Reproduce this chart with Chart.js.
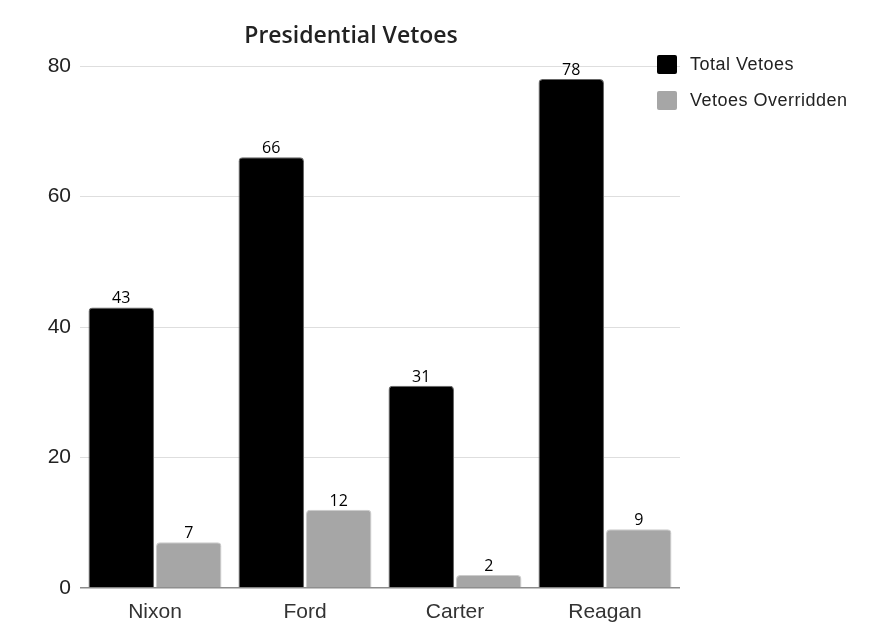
<!DOCTYPE html>
<html>
<head>
<meta charset="utf-8">
<script src="https://cdn.jsdelivr.net/npm/chart.js@4.4.1/dist/chart.umd.min.js"></script>
<style>
  body { margin: 0; background: #fff; }
  #wrap { position: relative; width: 875px; height: 640px; }
  #legenda { position: absolute; left: 657px; top: 54px; font-family: 'Liberation Sans', Arial, sans-serif; font-size: 18px; color: #222; letter-spacing: 0.5px; }
  .item { display: flex; align-items: center; height: 20px; margin-bottom: 16px; }
  .caixa { width: 20px; height: 19px; border-radius: 2px; margin-right: 13px; }
</style>
</head>
<body>
<div id="wrap">
  <canvas id="graficoVetos" width="875" height="640"></canvas>
  <div id="legenda"></div>
</div>
<script>
// dados
const presidentes = ['Nixon', 'Ford', 'Carter', 'Reagan']
const vetosTotais = [43, 66, 31, 78]
const vetosDerrubados = [7, 12, 2, 9]
const ticksY = [0, 20, 40, 60, 80]

const nomesSeries = ['Total Vetoes', 'Vetoes Overridden']
const coresSeries = ['#000000', '#a6a6a6']
const bordasSeries = ['#666666', '#cccccc']

// legenda em html (fica fora da area do titulo)
const $legenda = document.getElementById('legenda')
nomesSeries.forEach((nome, i) => {
    $legenda.innerHTML += `<div class="item"><div class="caixa" style="background:${coresSeries[i]}"></div>${nome}</div>`
})

/*
* Escreve o valor em cima de cada barra
*/
const rotulosBarras = {
    id: 'rotulosBarras',
    afterDatasetsDraw(chart) {
        const ctx = chart.ctx
        ctx.save()
        ctx.font = '16px "Open Sans", sans-serif'
        ctx.fillStyle = '#000'
        ctx.textAlign = 'center'
        ctx.textBaseline = 'alphabetic'
        chart.data.datasets.forEach((ds, i) => {
            chart.getDatasetMeta(i).data.forEach((barra, j) => {
                ctx.fillText(ds.data[j], barra.x, barra.y - 4)
            })
        })
        ctx.restore()
    }
}

const ctx = document.getElementById('graficoVetos').getContext('2d')

const meuGrafico = new Chart(ctx, {
    type: 'bar',
    data: {
        labels: presidentes,
        datasets: [{
            label: nomesSeries[0],
            data: vetosTotais,
            backgroundColor: coresSeries[0],
            borderColor: bordasSeries[0],
            borderWidth: 1,
            borderRadius: { topLeft: 4, topRight: 4 },
            borderSkipped: 'start'
        }, {
            label: nomesSeries[1],
            data: vetosDerrubados,
            backgroundColor: coresSeries[1],
            borderColor: bordasSeries[1],
            borderWidth: 1,
            borderRadius: { topLeft: 4, topRight: 4 },
            borderSkipped: 'start'
        }]
    },
    options: {
        responsive: false,
        animation: false,
        categoryPercentage: 0.9,
        barPercentage: 0.97,
        layout: {
            padding: { left: 22, right: 195, top: 0, bottom: 0 }
        },
        plugins: {
            legend: { display: false },
            tooltip: { enabled: false },
            title: {
                display: true,
                text: 'Presidential Vetoes',
                color: '#222',
                font: { family: '"Open Sans", sans-serif', size: 23, weight: '600' },
                padding: { top: 23, bottom: 15.4 }
            }
        },
        scales: {
            x: {
                grid: { display: false },
                border: { display: false },
                ticks: {
                    color: '#333',
                    font: { family: '"Liberation Sans", Arial, sans-serif', size: 21 },
                    padding: 4
                },
                afterFit: (escala) => { escala.height = 52 }
            },
            y: {
                min: 0,
                max: 80,
                afterBuildTicks: (escala) => { escala.ticks = ticksY.map(v => ({ value: v })) },
                grid: {
                    drawTicks: false,
                    color: (c) => c.tick && c.tick.value === 0 ? '#8c8c8c' : '#dedede',
                    lineWidth: (c) => c.tick && c.tick.value === 0 ? 1.5 : 1
                },
                border: { display: false },
                ticks: {
                    color: '#222',
                    font: { family: '"Liberation Sans", Arial, sans-serif', size: 21 },
                    padding: 9
                },
                afterFit: (escala) => { escala.width = 58 }
            }
        }
    },
    plugins: [rotulosBarras]
})
</script>
</body>
</html>
